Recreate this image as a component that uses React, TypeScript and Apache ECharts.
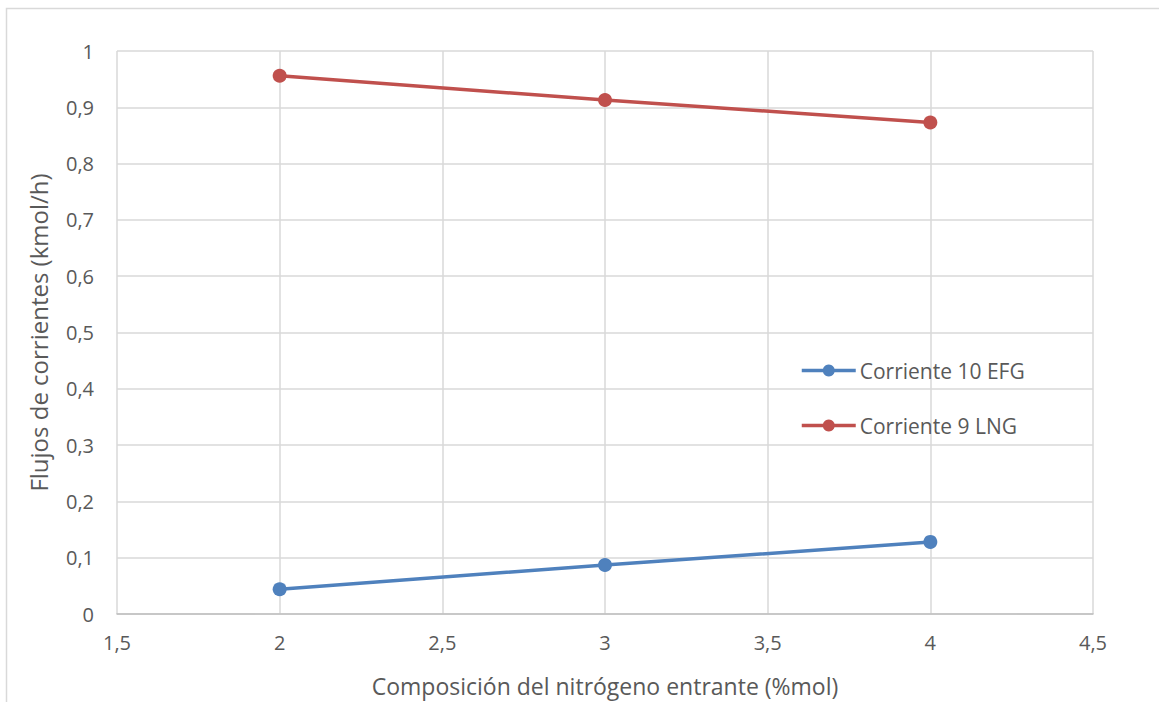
import React, { useEffect, useRef } from "react";
import * as echarts from "echarts";

// Nitrogen composition in the feed (%mol)
const composition = [2, 3, 4];
// Stream flows (kmol/h)
const corriente10EFG = [0.044, 0.087, 0.128];
const corriente9LNG = [0.956, 0.913, 0.873];

const seriesNames = ["Corriente 10 EFG", "Corriente 9 LNG"];
const seriesColors = ["#4f81bd", "#c0504d"];

const xAxisTitle = "Composición del nitrógeno entrante (%mol)";
const yAxisTitle = "Flujos de corrientes (kmol/h)";

const fontFamily = "'Open Sans', 'Liberation Sans', sans-serif";
const textColor = "#595959";

const fmt = (v: number) => String(Math.round(v * 10) / 10).replace(".", ",");

export default function App() {
  const ref = useRef<HTMLDivElement>(null);

  useEffect(() => {
    if (!ref.current) return;
    const chart = echarts.init(ref.current, undefined, { renderer: "svg" });
    const toPairs = (ys: number[]) => composition.map((x, i) => [x, ys[i]]);
    chart.setOption({
      animation: false,
      backgroundColor: "#ffffff",
      graphic: [
        {
          type: "rect",
          shape: { x: 6.5, y: 8.5, width: 1200, height: 800 },
          style: { fill: "none", stroke: "#d9d9d9", lineWidth: 1.5 },
          silent: true,
        },
      ],
      grid: { left: 117, right: 66, top: 51, bottom: 88, outerBoundsMode: "none" },
      legend: {
        orient: "vertical",
        left: 800,
        top: 360,
        padding: 0,
        itemWidth: 54,
        itemHeight: 15,
        itemGap: 34,
        lineStyle: { width: 3.5 },
        textStyle: { color: textColor, fontSize: 21, fontFamily, padding: [0, 0, 0, -1] },
        data: seriesNames,
      },
      xAxis: {
        type: "value",
        min: 1.5,
        max: 4.5,
        interval: 0.5,
        name: xAxisTitle,
        nameLocation: "middle",
        nameGap: 60,
        nameTextStyle: { color: textColor, fontSize: 23, fontFamily },
        axisLine: { show: true, onZero: false, lineStyle: { color: "#bfbfbf", width: 1.5 } },
        axisTick: { show: false },
        axisLabel: {
          color: textColor,
          fontSize: 20,
          fontFamily,
          margin: 18,
          formatter: (v: number) => fmt(v),
        },
        splitLine: { show: true, lineStyle: { color: "#d9d9d9", width: 1.5 } },
      },
      yAxis: {
        type: "value",
        min: 0,
        max: 1,
        interval: 0.1,
        name: yAxisTitle,
        nameLocation: "middle",
        nameGap: 67,
        nameTextStyle: { color: textColor, fontSize: 24, fontFamily },
        axisLine: { show: false },
        axisTick: { show: false },
        axisLabel: {
          color: textColor,
          fontSize: 20,
          fontFamily,
          margin: 23,
          formatter: (v: number) => fmt(v),
        },
        splitLine: { show: true, lineStyle: { color: "#d9d9d9", width: 1.5 } },
      },
      series: [
        {
          name: seriesNames[0],
          type: "line",
          data: toPairs(corriente10EFG),
          symbol: "circle",
          symbolSize: 14,
          lineStyle: { color: seriesColors[0], width: 3.5 },
          itemStyle: { color: seriesColors[0] },
        },
        {
          name: seriesNames[1],
          type: "line",
          data: toPairs(corriente9LNG),
          symbol: "circle",
          symbolSize: 14,
          lineStyle: { color: seriesColors[1], width: 3.5 },
          itemStyle: { color: seriesColors[1] },
        },
      ],
    });
    return () => chart.dispose();
  }, []);

  return (
    <div
      ref={ref}
      style={{ position: "absolute", left: 0, top: 0, width: 1159, height: 702 }}
    />
  );
}
